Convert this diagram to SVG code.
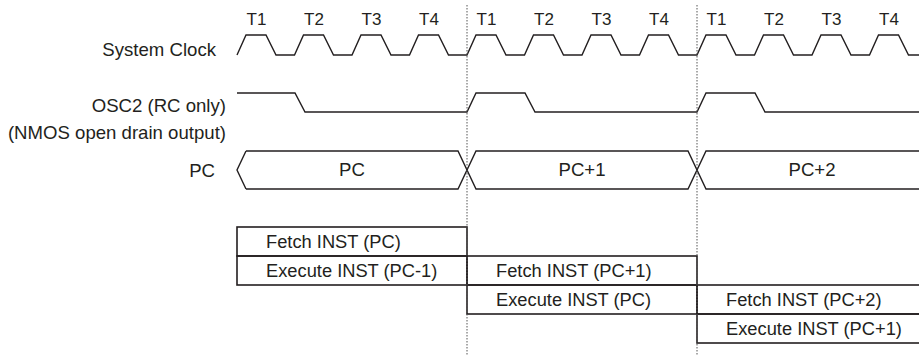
<svg xmlns="http://www.w3.org/2000/svg" width="919" height="358" viewBox="0 0 919 358">
<style>
  text { font-family: "Liberation Sans", Arial, sans-serif; fill: #231f20; }
  .lbl { font-size: 18.6px; text-anchor: end; }
  .t { font-size: 17px; text-anchor: middle; }
  .bus { font-size: 18.6px; text-anchor: middle; }
  .box { font-size: 18.3px; }
  .sig { fill: none; stroke: #231f20; stroke-width: 1.4; stroke-linejoin: miter; }
  .cell { fill: none; stroke: #231f20; stroke-width: 1.6; }
  .div { stroke: #555; stroke-width: 1; stroke-dasharray: 1.5 1.5; fill: none; }
</style>
<rect width="919" height="358" fill="#fff"/>

<g id="labels">
  <text class="lbl" x="216" y="56">System Clock</text>
  <text class="lbl" x="226" y="112">OSC2 (RC only)</text>
  <text class="lbl" x="226" y="139">(NMOS open drain output)</text>
  <text class="lbl" x="215" y="177">PC</text>
</g>

<g id="t-labels">
  <text class="t" x="256.5" y="25">T1</text>
  <text class="t" x="314" y="25">T2</text>
  <text class="t" x="371.5" y="25">T3</text>
  <text class="t" x="429" y="25">T4</text>
  <text class="t" x="486.5" y="25">T1</text>
  <text class="t" x="544" y="25">T2</text>
  <text class="t" x="601.5" y="25">T3</text>
  <text class="t" x="659" y="25">T4</text>
  <text class="t" x="716.5" y="25">T1</text>
  <text class="t" x="774" y="25">T2</text>
  <text class="t" x="831.5" y="25">T3</text>
  <text class="t" x="889" y="25">T4</text>
</g>

<g id="system-clock">
  <path class="sig" d="M237,55 L246,35 L266,35 L276,55 L294.5,55 L303.5,35 L323.5,35 L333.5,55 L352,55 L361,35 L381,35 L391,55 L409.5,55 L418.5,35 L438.5,35 L448.5,55 L467,55 L476,35 L496,35 L506,55 L524.5,55 L533.5,35 L553.5,35 L563.5,55 L582,55 L591,35 L611,35 L621,55 L639.5,55 L648.5,35 L668.5,35 L678.5,55 L697,55 L706,35 L726,35 L736,55 L754.5,55 L763.5,35 L783.5,35 L793.5,55 L812,55 L821,35 L841,35 L851,55 L869.5,55 L878.5,35 L898.5,35 L908.5,55 L919,55"/>
</g>

<g id="osc2">
  <path class="sig" d="M237,93 L295,93 L305,112 L467,112 L476,93 L525,93 L535,112 L697,112 L706,93 L755,93 L765,112 L919,112"/>
</g>

<g id="pc-bus">
  <path class="sig" d="M246,151 L237,170 L246,189"/>
  <path class="sig" d="M246,151 L458,151 L476,189 L688,189 L706,151 L919,151"/>
  <path class="sig" d="M246,189 L458,189 L476,151 L688,151 L706,189 L919,189"/>
  <text class="bus" x="352" y="176">PC</text>
  <text class="bus" x="582" y="176">PC+1</text>
  <text class="bus" x="812" y="176">PC+2</text>
</g>

<g id="fetch-pc">
  <rect class="cell" x="237" y="227" width="230" height="29"/>
  <text class="box" x="266" y="248">Fetch INST (PC)</text>
</g>
<g id="execute-pc-1">
  <rect class="cell" x="237" y="256" width="230" height="29"/>
  <text class="box" x="266" y="277">Execute INST (PC-1)</text>
</g>
<g id="fetch-pc1">
  <rect class="cell" x="467" y="256" width="230" height="29"/>
  <text class="box" x="496" y="277">Fetch INST (PC+1)</text>
</g>
<g id="execute-pc">
  <rect class="cell" x="467" y="285" width="230" height="29"/>
  <text class="box" x="496" y="306">Execute INST (PC)</text>
</g>
<g id="fetch-pc2">
  <rect class="cell" x="697" y="285" width="230" height="29"/>
  <text class="box" x="726" y="306">Fetch INST (PC+2)</text>
</g>
<g id="execute-pc1">
  <rect class="cell" x="697" y="314" width="230" height="29"/>
  <text class="box" x="726" y="335">Execute INST (PC+1)</text>
</g>

<g id="connectors">
  <line class="div" x1="467" y1="5" x2="467" y2="356"/>
  <line class="div" x1="697" y1="5" x2="697" y2="356"/>
</g>
</svg>
